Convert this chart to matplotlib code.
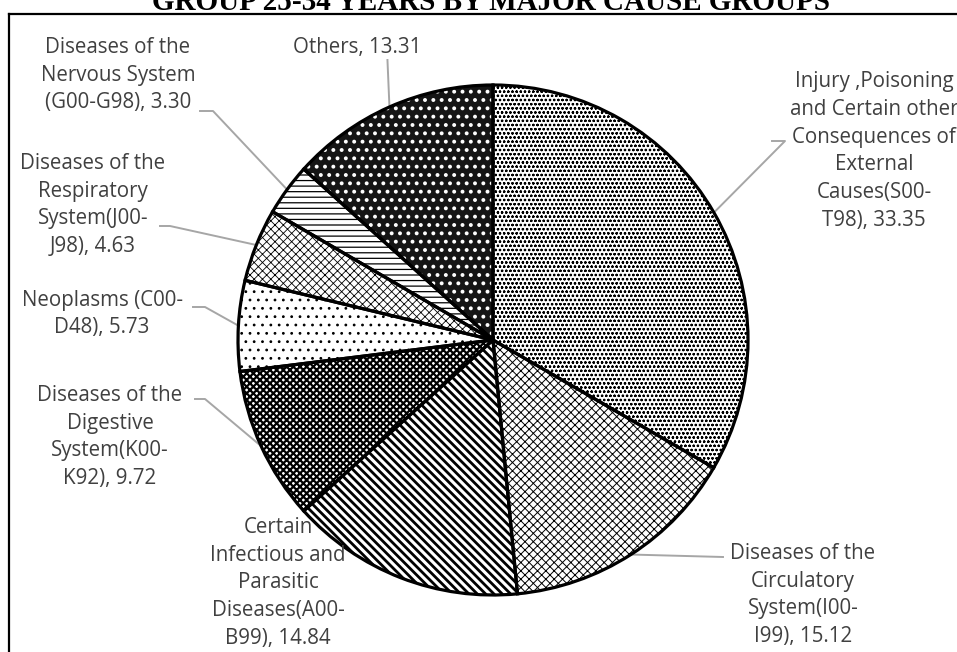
import numpy as np
import matplotlib
matplotlib.use("Agg")
import matplotlib.pyplot as plt

W, H = 957, 652

causes = [
    "Injury ,Poisoning\nand Certain other\nConsequences of\nExternal\nCauses(S00-\nT98)",
    "Diseases of the\nCirculatory\nSystem(I00-\nI99)",
    "Certain\nInfectious and\nParasitic\nDiseases(A00-\nB99)",
    "Diseases of the\nDigestive\nSystem(K00-\nK92)",
    "Neoplasms (C00-\nD48)",
    "Diseases of the\nRespiratory\nSystem(J00-\nJ98)",
    "Diseases of the\nNervous System\n(G00-G98)",
    "Others",
]
shares = [33.35, 15.12, 14.84, 9.72, 5.73, 4.63, 3.30, 13.31]

# fill styles: face, hatch, hatch colour, hatch linewidth
styles = [
    ("white", "oooo", "black", 0.6),
    ("white", "xxxx", "black", 0.7),
    ("white", "\\\\\\\\", "black", 2.0),
    ("white", "xxxxx", "black", 1.6),
    ("white", "..", "black", 0.8),
    ("white", "xxxx", "black", 0.6),
    ("white", "---", "black", 0.9),
    ("#151515", "..", "white", 1.6),
]

# label layout in pixel coords: text centre, leader start, elbow x (None = no leader)
label_pos = [
    (874, 151, (772, 141), 785),
    (803, 595, (723, 557), None),
    (278, 583, None, None),
    (110, 437, (195, 399), 205),
    (102, 314, (193, 307), 205),
    (93, 205, (160, 226), 170),
    (118, 75, (200, 111), 213),
    (357, 47, None, None),
]

cx, cy, r = 493, 340, 255

fig = plt.figure(figsize=(W / 100, H / 100), dpi=100)
ax = fig.add_axes([0, 0, 1, 1])

wedges, _ = ax.pie(shares, startangle=90, counterclock=False,
                   center=(cx, H - cy), radius=r,
                   wedgeprops=dict(linewidth=0))
for w, (fc, hatch, hc, hlw) in zip(wedges, styles):
    w.set_facecolor(fc)
    w.set_edgecolor(hc)
    w.set_hatch(hatch)
    if hasattr(w, "set_hatch_linewidth"):
        w.set_hatch_linewidth(hlw)

# black outlines on top
outl, _ = ax.pie(shares, startangle=90, counterclock=False,
                 center=(cx, H - cy), radius=r,
                 wedgeprops=dict(facecolor="none", edgecolor="black", linewidth=2.3))

ax.set_xlim(0, W)
ax.set_ylim(0, H)
ax.set_aspect("equal")
ax.axis("off")

font = dict(family=["Open Sans", "DejaVu Sans"], fontsize=14.8, color="#404040")
fr = np.cumsum([0] + shares[:-1])
for i, (name, val) in enumerate(zip(causes, shares)):
    tx, ty, start, elbow = label_pos[i]
    ax.text(tx, H - ty, f"{name}, {val:.2f}", ha="center", va="center",
            linespacing=1.42, **font)
    mid = np.deg2rad(90 - (fr[i] + val / 2) / 100 * 360)
    ex, ey = cx + r * np.cos(mid), cy - r * np.sin(mid)
    if start is not None:
        xs = [start[0], elbow, ex] if elbow is not None else [start[0], ex]
        ys = [start[1], start[1], ey] if elbow is not None else [start[1], ey]
        ax.plot(xs, [H - y for y in ys], color="#a6a6a6", lw=1.4, zorder=0.5)
    elif i == 7:
        ax.plot([ex - 2, ex], [H - 60, H - ey], color="#a6a6a6", lw=1.4, zorder=0.5)

# frame around the chart area (right and bottom edges are off the page)
ax.plot([9, 9], [0, H - 14], color="black", lw=1.6, clip_on=False)
ax.plot([9, W], [H - 14, H - 14], color="black", lw=1.6, clip_on=False)

fig.text(491 / W, 1 - 10 / H, "GROUP 25-34 YEARS BY MAJOR CAUSE GROUPS",
         ha="center", va="baseline", fontsize=21, fontweight="bold",
         family="Liberation Serif", color="black")

fig.savefig("out.png", dpi=100)
